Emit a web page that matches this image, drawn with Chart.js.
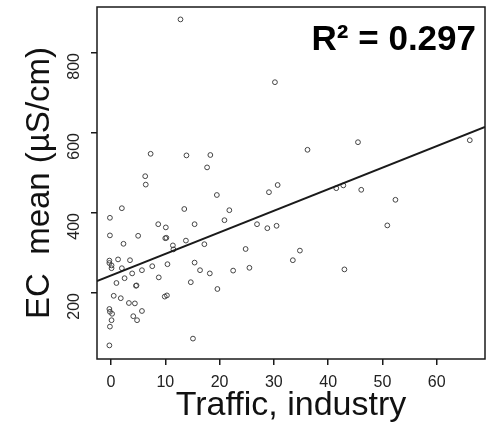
<!DOCTYPE html>
<html>
<head>
<meta charset="utf-8">
<script src="https://cdn.jsdelivr.net/npm/chart.js@4/dist/chart.umd.min.js"></script>
<style>
  html, body { margin: 0; padding: 0; background: #fff; }
  #wrap { width: 491px; height: 432px; }
</style>
</head>
<body>
<div id="wrap"><canvas id="plot"></canvas></div>
<script>
// traffic/industry share vs. mean EC per site
const trafficX = [12.8, 30.2, 7.3, 13.9, 18.3, 17.7, 6.3, 6.4, 30.7, 29.1,
  19.5, 2.0, 13.5, 21.8, -0.2, 20.9, 26.9, 8.7, 15.4, 10.1,
  30.5, 28.8, -0.2, 5.0, 10.0, 10.2, 13.8, 2.3, 17.2, 11.4,
  11.5, 24.8, 1.3, 3.5, -0.3, -0.3, 0.1, 15.4, 10.4, 7.6,
  2.0, 0.1, 33.5, 5.7, 16.4, 3.9, 22.5, 25.5, 18.2, 2.5,
  8.8, 1.0, 14.7, 4.6, 4.7, 0.5, 10.3, 9.9, 19.6, 1.8,
  3.3, 4.4, -0.3, -0.2, 0.2, 5.7, 4.1, 0.1, 4.8, -0.2,
  15.1, -0.3, 36.2, 45.5, 66.1, 41.5, 42.8, 46.1, 52.4, 50.9,
  34.8, 43.0];
const ecMean = [884, 727, 548, 544, 545, 514, 492, 471, 470, 452,
  445, 412, 410, 407, 388, 382, 372, 372, 372, 364,
  368, 362, 344, 343, 337, 338, 331, 323, 322, 319,
  309, 310, 284, 282, 281, 275, 269, 276, 272, 267,
  262, 262, 282, 257, 257, 249, 256, 263, 249, 237,
  239, 225, 227, 218, 219, 193, 194, 191, 210, 187,
  175, 174, 160, 153, 148, 155, 142, 132, 132, 116,
  86, 69, 558, 577, 582, 462, 469, 458, 433, 369,
  306, 259];

// fitted line end points
const fitX = [-2.6, 68.9];
const fitY = [230, 615];

const xTicks = [0, 10, 20, 30, 40, 50, 60];
const yTicks = [200, 400, 600, 800];
const rSquared = 'R\u00B2 = 0.297';

const points = trafficX.map((x, i) => ({ x: x, y: ecMean[i] }));
const fitLine = fitX.map((x, i) => ({ x: x, y: fitY[i] }));

const ink = '#1a1a1a';

// frame around the plot + R² label
const framePlugin = {
  id: 'frame',
  afterDraw(chart) {
    const ctx = chart.ctx;
    const a = chart.chartArea;
    ctx.save();
    ctx.strokeStyle = ink;
    ctx.lineWidth = 1.5;
    ctx.strokeRect(a.left, a.top, a.right - a.left, a.bottom - a.top);
    ctx.fillStyle = '#000';
    ctx.font = 'bold 35px "Liberation Sans", Arial, sans-serif';
    ctx.textAlign = 'right';
    ctx.textBaseline = 'alphabetic';
    ctx.fillText(rSquared, a.right - 9, 50);
    ctx.restore();
  }
};

// keep rotated tick labels from pushing the plot area around
function noEdgePad(s) {
  s.paddingTop = 0;
  s.paddingBottom = 0;
  s.paddingLeft = 0;
  s.paddingRight = 0;
}

new Chart(document.getElementById('plot').getContext('2d'), {
  type: 'scatter',
  data: {
    datasets: [{
      type: 'line',
      data: fitLine,
      borderColor: ink,
      borderWidth: 2,
      pointRadius: 0,
      fill: false,
      order: 0
    }, {
      data: points,
      pointStyle: 'circle',
      pointRadius: 2.4,
      backgroundColor: 'rgba(0,0,0,0)',
      borderColor: '#444',
      borderWidth: 1,
      order: 1
    }]
  },
  plugins: [framePlugin],
  options: {
    responsive: true,
    maintainAspectRatio: false,
    animation: false,
    layout: { padding: { top: 7, right: 6, left: 0, bottom: 0 } },
    plugins: {
      legend: { display: false },
      tooltip: { enabled: false }
    },
    scales: {
      x: {
        type: 'linear',
        min: -2.58,
        max: 68.9,
        afterBuildTicks: s => { s.ticks = xTicks.map(v => ({ value: v })); },
        afterFit: s => { s.height = 73; noEdgePad(s); },
        border: { display: false },
        grid: { drawOnChartArea: false, drawTicks: true, tickLength: 6, color: ink, lineWidth: 1.5 },
        ticks: {
          color: '#222',
          padding: 8,
          maxRotation: 0,
          font: { family: '"Liberation Sans", Arial, sans-serif', size: 16 }
        },
        title: {
          display: true,
          text: 'Traffic, industry',
          color: '#111',
          padding: { top: 0, bottom: 6 },
          font: { family: '"Liberation Sans", Arial, sans-serif', size: 34 }
        }
      },
      y: {
        type: 'linear',
        min: 35,
        max: 915,
        afterBuildTicks: s => { s.ticks = yTicks.map(v => ({ value: v })); },
        afterFit: s => { s.width = 97; noEdgePad(s); },
        border: { display: false },
        grid: { drawOnChartArea: false, drawTicks: true, tickLength: 6, color: ink, lineWidth: 1.5 },
        ticks: {
          color: '#222',
          padding: 16,
          minRotation: 90,
          maxRotation: 90,
          font: { family: '"Liberation Sans", Arial, sans-serif', size: 16 }
        },
        title: {
          display: true,
          text: 'EC  mean (\u00B5S/cm)',
          color: '#111',
          padding: { top: 20, bottom: 0 },
          font: { family: '"Liberation Sans", Arial, sans-serif', size: 33 }
        }
      }
    }
  }
});
</script>
</body>
</html>
